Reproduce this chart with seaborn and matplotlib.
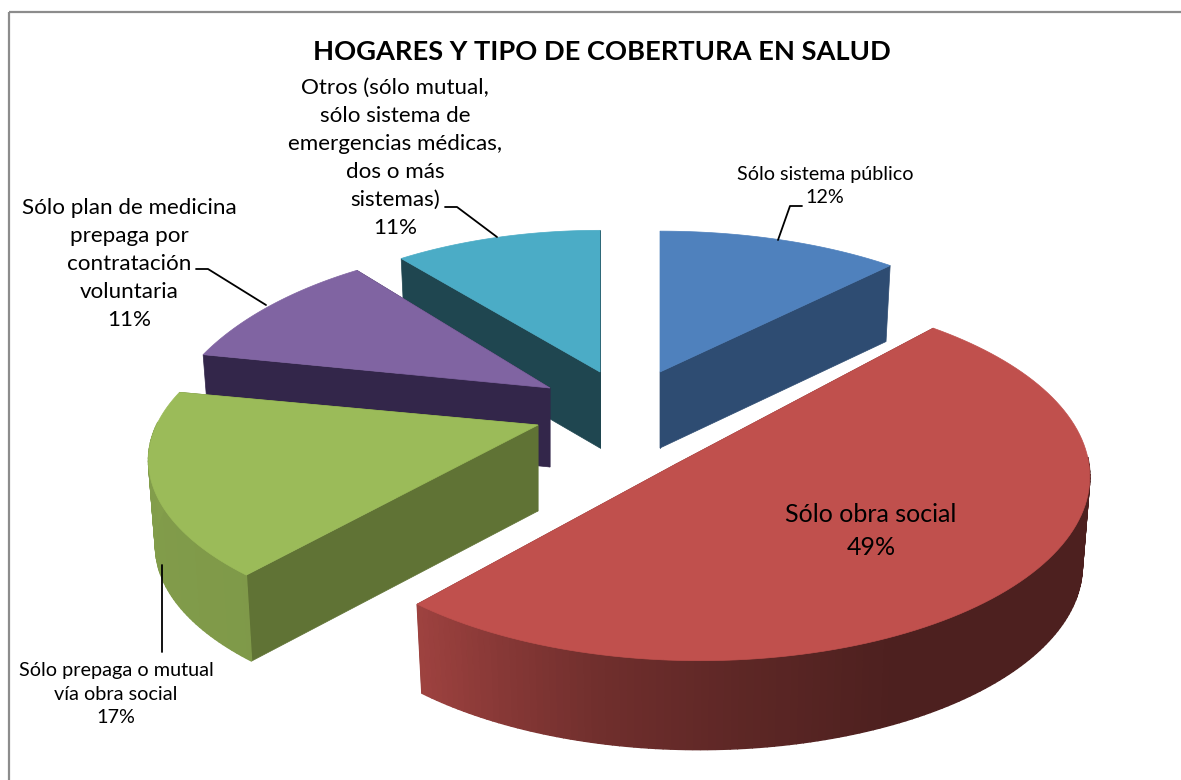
import numpy as np
import matplotlib
matplotlib.use('Agg')
import matplotlib.pyplot as plt
from matplotlib.patches import Polygon, Rectangle
import seaborn as sns

# Data
categories = ['Sólo sistema público', 'Sólo obra social', 'Sólo prepaga o mutual\nvía obra social',
              'Sólo plan de medicina\nprepaga por\ncontratación\nvoluntaria',
              'Otros (sólo mutual,\nsólo sistema de\nemergencias médicas,\ndos o más\nsistemas)']
shares = [12, 49, 17, 11, 11]

# Exploded slice layout, in figure pixels
apex_x = [660, 676, 538, 550, 600]
apex_y = [372, 464, 425, 388, 372]
rim_shift = [0, -7, -3, 0, 0]
radius_x = [373, 389, 380, 373, 360]
radius_y = [162, 183, 165, 188, 170]
persp = [0.15, 0.1, 0.22, 0.3, 0.2]
lean = [0, -0.055, 0, 0, 0]
depth = [76, 89, 86, 79, 76]
draw_order = [0, 4, 3, 2, 1]

palette = sns.color_palette(['#4F81BD', '#C0504D', '#9BBB59', '#8064A2', '#4BACC6'])
wall_colors = ['#2E4C72', '#7A302E', '#607335', '#33264A', '#1F4650']

sns.set_theme(style='white')
plt.rcParams['font.family'] = ['Lato', 'DejaVu Sans']

fig = plt.figure(figsize=(11.81, 7.80), dpi=100)
ax = fig.add_axes([0, 0, 1, 1])
ax.set_xlim(0, 1181)
ax.set_ylim(780, 0)
ax.axis('off')
ax.add_patch(Rectangle((8.5, 11.5), 1180, 800, fill=False, ec='#8c8c8c', lw=1.6, zorder=0))


def rim(i, theta, lower=False):
    # point on the slice rim, theta in degrees clockwise from 12 o'clock
    t = np.radians(theta)
    s = 1 / (1 + persp[i] * np.cos(t) + lean[i] * np.sin(t))
    x = radius_x[i] * np.sin(t) * s
    y = apex_y[i] + rim_shift[i] - radius_y[i] * np.cos(t) * s
    if lower:
        return apex_x[i] + x * 0.982, y + depth[i]
    return apex_x[i] + x, y


def side_shade(theta):
    return np.interp(theta, [90, 150, 170, 190, 219, 281], [0.40, 0.40, 0.48, 0.58, 0.82, 0.85])


edges = 3.6 * np.concatenate([[0], np.cumsum(shares)])
z = 1
for i in draw_order:
    start, end = edges[i], edges[i + 1]
    top = [(apex_x[i], apex_y[i])]
    arc = np.linspace(start, end, 120)
    top += [rim(i, a) for a in arc]

    # radial walls
    for a in (start, end):
        wall = [(apex_x[i], apex_y[i]), rim(i, a), rim(i, a, True), (apex_x[i], apex_y[i] + depth[i])]
        ax.add_patch(Polygon(wall, closed=True, fc=wall_colors[i], ec=wall_colors[i], lw=0.5, zorder=z))

    # outer side, only the part that faces the front
    lo, hi = max(start, 90), min(end, 270)
    if hi > lo:
        steps = np.linspace(lo, hi, int(hi - lo) + 2)
        for a, b in zip(steps[:-1], steps[1:]):
            f = side_shade((a + b) / 2)
            col = tuple(c * f for c in palette[i])
            strip = [rim(i, a), rim(i, b), rim(i, b, True), rim(i, a, True)]
            ax.add_patch(Polygon(strip, closed=True, fc=col, ec=col, lw=1.0, zorder=z))

    ax.add_patch(Polygon(top, closed=True, fc=palette[i], ec=palette[i], lw=0.5, zorder=z + 1))
    z += 2

# Title and labels
ax.text(602, 52, 'HOGARES Y TIPO DE COBERTURA EN SALUD', ha='center', va='center',
        fontsize=19.6, fontweight='bold', color='black', zorder=30)


def pct(i):
    return f'{shares[i]}%'


ax.text(825, 186, f'{categories[0]}\n{pct(0)}', ha='center', va='center', fontsize=14.2,
        linespacing=1.43, color='black', zorder=30)
ax.text(871, 531, f'{categories[1]}\n{pct(1)}', ha='center', va='center', fontsize=18,
        linespacing=1.55, color='black', zorder=30)
ax.text(116, 694, f'{categories[2]}\n{pct(2)}', ha='center', va='center', fontsize=14.3,
        linespacing=1.43, color='black', zorder=30)
ax.text(129, 264, f'{categories[3]}\n{pct(3)}', ha='center', va='center', fontsize=16.1,
        linespacing=1.5, color='black', zorder=30)
ax.text(395, 158, f'{categories[4]}\n{pct(4)}', ha='center', va='center', fontsize=16.1,
        linespacing=1.5, color='black', zorder=30)

# Leader lines
leader_x = [[802, 790, 778], [162, 162], [196, 208, 266], [445, 457, 497]]
leader_y = [[206, 206, 240], [565, 652], [269, 269, 305], [207, 207, 237]]
for lx, ly in zip(leader_x, leader_y):
    ax.plot(lx, ly, color='black', lw=1.3, zorder=31)

fig.savefig('out.png', dpi=100, facecolor='white')
